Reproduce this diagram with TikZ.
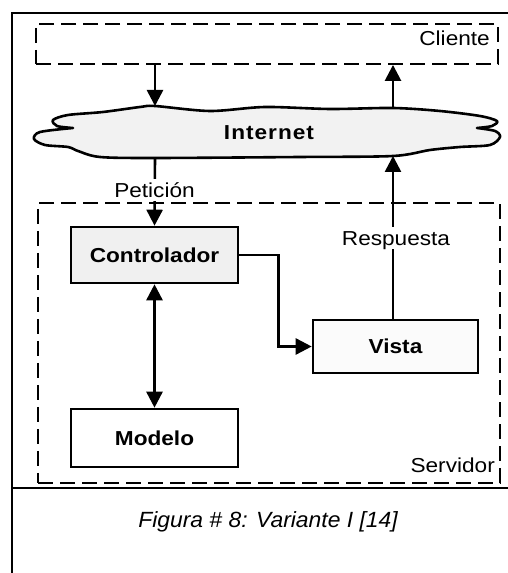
\documentclass[tikz,border=0pt]{standalone}
\usepackage{fontspec}
\setmainfont{Liberation Sans}[FakeStretch=1.12]
\newfontfamily\netfont{Liberation Sans}[FakeStretch=1.12,LetterSpace=5]
\newfontfamily\capfont{Liberation Sans}[FakeStretch=1.04]
\usetikzlibrary{arrows.meta}

\begin{document}
\begin{tikzpicture}[x=1pt,y=1pt,
  lbl/.style={font=\fontsize{20.2}{23}\selectfont, text height=14.5pt, text depth=0pt, inner sep=0pt},
  onwire/.style={lbl, fill=white, inner xsep=3pt, inner ysep=4pt},
  box/.style={draw, line width=2.6pt, font=\fontsize{20.2}{23}\selectfont\bfseries,
    text height=14.5pt, text depth=0pt},
  zone/.style={draw, dash pattern=on 15pt off 7pt, line width=1.9pt},
  frame/.style={line width=1.6pt},
  tip/.tip={Triangle[length=16pt,width=16pt]},
  arr/.style={line width=2.6pt, -tip},
  dblarr/.style={line width=2.6pt, tip-tip},
  cloudline/.style={line width=2.6pt, fill=gray!10, line join=round}]

% page and outer frame
\fill[white] (0,0) rectangle (508,573);
\useasboundingbox (0,0) rectangle (508,573);
\draw[frame] (12,0) -- (12,560) -- (508,560);
\draw[frame] (12,85) -- (508,85);

% client and server zones
\node[zone, minimum width=462pt, minimum height=40pt] (cliente) at (267,529) {};
\node[lbl, anchor=east] (clientelbl) at (490,535) {Cliente};
\node[zone, minimum width=462pt, minimum height=280pt] (servidor) at (269,230) {};
\node[lbl, anchor=east] (servidorlbl) at (495,108) {Servidor};

% the Internet cloud
\draw[cloudline]
  plot[smooth] coordinates {(73,445) (57,447) (53,453) (68,458) (103,461) (140,466)
    (155,467) (210,462) (265,466) (330,464) (393,465) (440,462) (480,457) (497,452)
    (492,447) (477,445)}
  -- plot[smooth] coordinates {(477,445) (495,442) (500,436) (490,428) (460,426)
    (430,423) (393,417) (300,416) (155,415) (100,416) (78,422) (68,426) (45,428)
    (34,434) (40,441) (73,445)}
  -- cycle;
\node[font=\fontsize{20.2}{23}\selectfont\netfont\bfseries, text height=14.5pt, text depth=0pt,
  inner sep=0pt] (internet) at (269,441) {Internet};
\coordinate (cloudTopL) at (155,467);
\coordinate (cloudTopR) at (393,465);
\coordinate (cloudBotL) at (155,415);
\coordinate (cloudBotR) at (393,417);

% components
\node[box, fill=gray!12, minimum width=167pt, minimum height=56pt] (ctrl) at (154.5,318) {Controlador};
\node[box, fill=gray!3, minimum width=165pt, minimum height=53pt] (vista) at (395.5,226.5) {Vista};
\node[box, fill=white, minimum width=167pt, minimum height=58pt] (modelo) at (154.5,135) {Modelo};

% request and response flow
\draw[arr] (cliente.south -| cloudTopL) -- (cloudTopL);
\draw[arr] (cloudTopR) -- (cliente.south -| cloudTopR);
\draw[arr] (cloudBotL) -- (ctrl.north);
\node[onwire] (peticion) at (154.5,383) {Petición};
\draw[arr] (ctrl.east) -- ++(39,0) |- (vista.west);
\draw[arr] (vista.north -| cloudBotR) -- (cloudBotR);
\node[onwire] (respuesta) at (396,335) {Respuesta};
\draw[dblarr] (ctrl.south) -- (modelo.north);

% caption
\node[font=\fontsize{22}{25}\selectfont\capfont\itshape, inner sep=0pt] (caption) at (268,51)
  {Figura \# 8: Variante I [14]};
\end{tikzpicture}
\end{document}
